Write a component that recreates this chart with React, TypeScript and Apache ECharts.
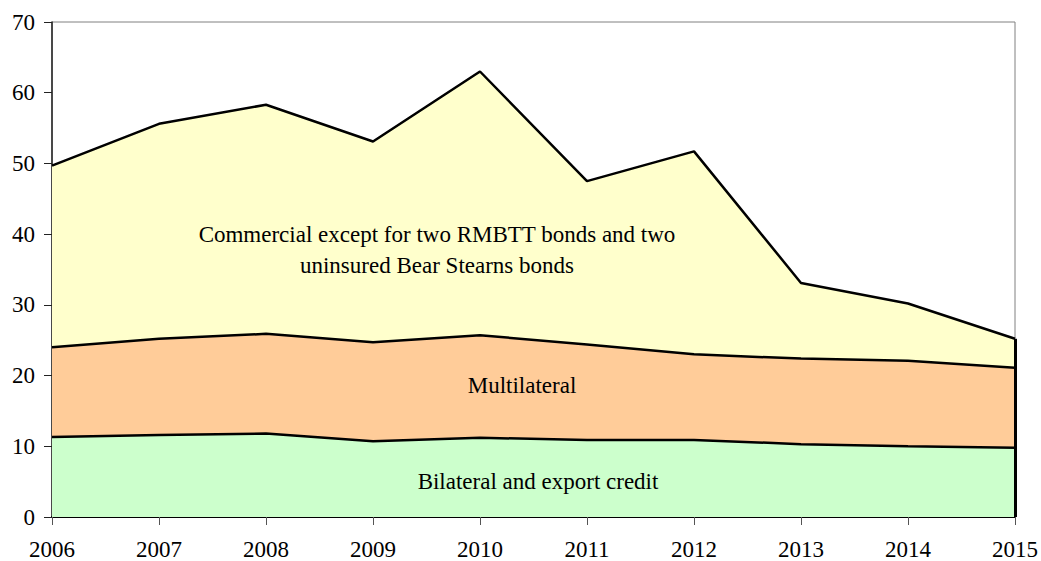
import React, { useEffect, useRef } from "react";
import * as echarts from "echarts";

const years = ["2006", "2007", "2008", "2009", "2010", "2011", "2012", "2013", "2014", "2015"];
const bilateral = [11.3, 11.6, 11.8, 10.7, 11.2, 10.9, 10.9, 10.3, 10.0, 9.8];
const multilateral = [12.7, 13.6, 14.1, 14.0, 14.5, 13.5, 12.1, 12.1, 12.1, 11.3];
const commercial = [25.7, 30.4, 32.4, 28.4, 37.3, 23.1, 28.7, 10.7, 8.1, 4.1];
const yTicks = [0, 10, 20, 30, 40, 50, 60, 70];

const FONT = "'Liberation Serif', 'Times New Roman', serif";

export default function App() {
  const ref = useRef<HTMLDivElement>(null);
  useEffect(() => {
    if (!ref.current) return;
    const chart = echarts.init(ref.current, null, { renderer: "svg" });
    const last = years.length - 1;
    const lastTotal = bilateral[last] + multilateral[last] + commercial[last];
    const lineStyle = { color: "#000", width: 2.5 };
    const textStyle = {
      fontFamily: FONT,
      fontSize: 23,
      fill: "#000",
      align: "center",
      verticalAlign: "middle",
    };
    chart.setOption({
      animation: false,
      grid: {
        left: 52,
        right: 25,
        top: 22,
        bottom: 44,
        show: true,
        borderColor: "#808080",
        borderWidth: 1,
        backgroundColor: "transparent",
      },
      xAxis: {
        type: "category",
        data: years,
        boundaryGap: false,
        axisLine: { lineStyle: { color: "#000", width: 2 } },
        axisTick: { show: true, length: 8, lineStyle: { color: "#555", width: 1 } },
        axisLabel: { color: "#000", fontFamily: FONT, fontSize: 23, margin: 21 },
        splitLine: { show: false },
      },
      yAxis: {
        type: "value",
        min: yTicks[0],
        max: yTicks[yTicks.length - 1],
        interval: 10,
        axisLine: { show: true, lineStyle: { color: "#222", width: 1.5 } },
        axisTick: { show: true, length: 8, lineStyle: { color: "#222", width: 1 } },
        axisLabel: { color: "#000", fontFamily: FONT, fontSize: 23, margin: 17 },
        splitLine: { show: false },
      },
      series: [
        {
          name: "Bilateral and export credit",
          type: "line",
          stack: "total",
          data: bilateral,
          symbol: "none",
          lineStyle,
          areaStyle: { color: "#CCFFCC", opacity: 1 },
          z: 3,
        },
        {
          name: "Multilateral",
          type: "line",
          stack: "total",
          data: multilateral,
          symbol: "none",
          lineStyle,
          areaStyle: { color: "#FFCC99", opacity: 1 },
          z: 2,
        },
        {
          name: "Commercial",
          type: "line",
          stack: "total",
          data: commercial,
          symbol: "none",
          lineStyle,
          areaStyle: { color: "#FFFFCC", opacity: 1 },
          z: 1,
          markLine: {
            silent: true,
            symbol: "none",
            label: { show: false },
            lineStyle: { color: "#000", width: 3, type: "solid" },
            data: [[{ coord: [years[last], 0] }, { coord: [years[last], lastTotal] }]],
          },
        },
      ],
      graphic: [
        {
          type: "text",
          x: 437,
          y: 234,
          style: { ...textStyle, text: "Commercial except for two RMBTT bonds and two" },
          z: 100,
        },
        {
          type: "text",
          x: 437,
          y: 265,
          style: { ...textStyle, text: "uninsured Bear Stearns bonds" },
          z: 100,
        },
        {
          type: "text",
          x: 522,
          y: 385,
          style: { ...textStyle, text: "Multilateral" },
          z: 100,
        },
        {
          type: "text",
          x: 538,
          y: 481,
          style: { ...textStyle, text: "Bilateral and export credit" },
          z: 100,
        },
      ],
    });
    return () => chart.dispose();
  }, []);
  return <div ref={ref} style={{ width: 1041, height: 561, position: "absolute", left: 0, top: 0 }} />;
}
